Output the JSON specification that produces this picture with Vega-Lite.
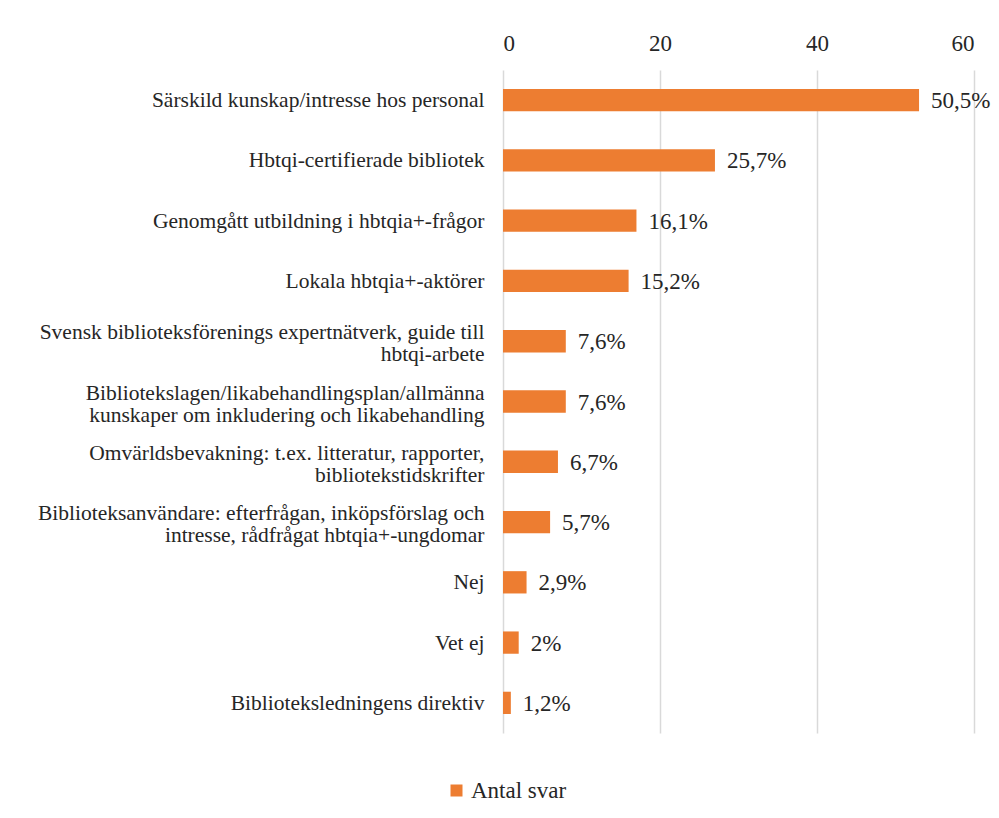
{
  "$schema": "https://vega.github.io/schema/vega-lite/v6.json",
  "autosize": "none",
  "width": 471,
  "height": 663,
  "padding": {"left": 503, "top": 70, "right": 25, "bottom": 85},
  "background": "white",
  "config": {
    "view": {"stroke": null},
    "font": "Liberation Serif"
  },
  "data": {
    "values": [
      {"kategori": "Särskild kunskap/intresse hos personal", "antal": 53, "andel": "50,5%"},
      {"kategori": "Hbtqi-certifierade bibliotek", "antal": 27, "andel": "25,7%"},
      {"kategori": "Genomgått utbildning i hbtqia+-frågor", "antal": 17, "andel": "16,1%"},
      {"kategori": "Lokala hbtqia+-aktörer", "antal": 16, "andel": "15,2%"},
      {"kategori": "Svensk biblioteksförenings expertnätverk, guide till\nhbtqi-arbete", "antal": 8, "andel": "7,6%"},
      {"kategori": "Bibliotekslagen/likabehandlingsplan/allmänna\nkunskaper om inkludering och likabehandling", "antal": 8, "andel": "7,6%"},
      {"kategori": "Omvärldsbevakning: t.ex. litteratur, rapporter,\nbibliotekstidskrifter", "antal": 7, "andel": "6,7%"},
      {"kategori": "Biblioteksanvändare: efterfrågan, inköpsförslag och\nintresse, rådfrågat hbtqia+-ungdomar", "antal": 6, "andel": "5,7%"},
      {"kategori": "Nej", "antal": 3, "andel": "2,9%"},
      {"kategori": "Vet ej", "antal": 2, "andel": "2%"},
      {"kategori": "Biblioteksledningens direktiv", "antal": 1, "andel": "1,2%"}
    ]
  },
  "encoding": {
    "y": {
      "field": "kategori",
      "type": "nominal",
      "sort": null,
      "scale": {"paddingInner": 0.63, "paddingOuter": 0.315},
      "axis": {
        "title": null,
        "domain": false,
        "ticks": false,
        "labelPadding": 19,
        "labelFont": "Liberation Serif",
        "labelFontSize": 21.5,
        "labelColor": "#262626",
        "labelLineHeight": 22,
        "labelLimit": 0,
        "labelOffset": {"condition": {"test": "indexof(datum.value, '\\n') >= 0", "value": -8}, "value": 1},
        "labelExpr": "split(datum.label, '\\n')"
      }
    },
    "x": {
      "field": "antal",
      "type": "quantitative",
      "scale": {"domain": [0, 60]},
      "axis": {
        "orient": "top",
        "values": [0, 20, 40, 60],
        "title": null,
        "domain": false,
        "ticks": false,
        "grid": true,
        "gridColor": "#D9D9D9",
        "gridWidth": 1.5,
        "labelPadding": 15,
        "labelFont": "Liberation Serif",
        "labelFontSize": 23,
        "labelColor": "#262626"
      }
    }
  },
  "layer": [
    {
      "mark": {"type": "bar"},
      "encoding": {
        "color": {
          "datum": "Antal svar",
          "type": "nominal",
          "scale": {"range": ["#ED7D31"]},
          "legend": {
            "title": null,
            "orient": "none",
            "legendX": -58,
            "legendY": 709,
            "symbolType": "square",
            "symbolSize": 144,
            "symbolStrokeWidth": 0,
            "labelFont": "Liberation Serif",
            "labelFontSize": 23,
            "labelColor": "#262626",
            "labelOffset": 3
          }
        }
      }
    },
    {
      "mark": {"type": "text", "align": "left", "baseline": "middle", "dx": 12, "dy": 1, "fontSize": 23, "color": "#262626", "font": "Liberation Serif"},
      "encoding": {"text": {"field": "andel"}}
    }
  ]
}
